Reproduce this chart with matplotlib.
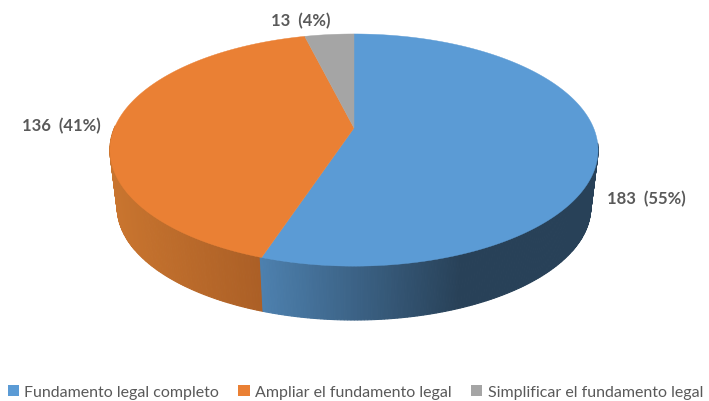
import matplotlib
matplotlib.use("Agg")
import matplotlib.pyplot as plt
import numpy as np
from matplotlib.patches import Patch

# Data
categories = ["Fundamento legal completo", "Ampliar el fundamento legal", "Simplificar el fundamento legal"]
values = [183, 136, 13]
percents = [55, 41, 4]
colors = ["#5b9bd5", "#ea8034", "#a5a5a5"]

# colours of the side wall, left to right
side_blue = ["#4d80ae", "#284158"]
side_orange = ["#c9752f", "#ab5f26"]

plt.rcParams["font.family"] = ["Lato", "DejaVu Sans"]

# pie geometry in pixels, with perspective so the apex sits above the middle
cx, cy = 354, 129
a, b, k = 239.6, 111.9, 0.19
depth, shrink = 58, 0.97


def top_point(t):
    w = 1 + k * np.sin(t)
    return cx + a * np.cos(t) / w, cy - b * np.sin(t) / w


def bottom_point(t):
    x, y = top_point(t)
    return cx + (x - cx) * shrink, cy + (y - cy) * shrink + depth


def hex_mix(pair, f):
    c0 = np.array(matplotlib.colors.to_rgb(pair[0]))
    c1 = np.array(matplotlib.colors.to_rgb(pair[1]))
    return tuple(c0 + (c1 - c0) * np.clip(f, 0, 1))


fig = plt.figure(figsize=(7.09, 4.02), dpi=100)
ax = fig.add_axes([0, 0, 1, 1])
ax.set_xlim(0, 709)
ax.set_ylim(402, 0)
ax.axis("off")

# slice limits, clockwise from 12 o'clock
shares = np.array(values) / sum(values)
edges = np.pi / 2 - 2 * np.pi * np.concatenate([[0], np.cumsum(shares)])
seam = edges[1]

# side wall strips, from the left edge round the front to the right edge
strips = np.linspace(-np.pi - 0.02, -0.13, 260)
for t, t2 in zip(strips[:-1], strips[1:]):
    p1, p2 = top_point(t), top_point(t2)
    q1, q2 = bottom_point(t), bottom_point(t2)
    tm = (t + t2) / 2
    xm = top_point(tm)[0]
    if tm > seam:
        col = hex_mix(side_blue, (xm - 262) / 200)
    else:
        col = hex_mix(side_orange, (xm - 112) / 150)
    ax.fill([p1[0], p2[0], q2[0], q1[0]], [p1[1], p2[1], q2[1], q1[1]],
            facecolor=col, edgecolor=col, lw=0.8)

# top face
for i, col in enumerate(colors):
    ts = np.linspace(edges[i], edges[i + 1], 200)
    x, y = top_point(ts)
    ax.fill(np.r_[cx, x], np.r_[cy, y], color=col, lw=0.3)

# data labels
label_pos = [(646, 199), (61, 126), (301, 21)]
for v, p, (lx, ly) in zip(values, percents, label_pos):
    ax.text(lx, ly, f"{v}  ({p}%)", ha="center", va="center", fontsize=12,
            fontweight="bold", color="#595959")

handles = [Patch(facecolor=c, edgecolor="none") for c in colors]
ax.legend(handles, categories, loc="lower left", bbox_to_anchor=(6 / 709, 0), ncol=3,
          frameon=False, fontsize=11.5, labelcolor="#595959",
          handlelength=0.7, handleheight=0.7, handletextpad=0.35,
          columnspacing=1.2, borderpad=0.1, borderaxespad=0)

fig.savefig("out.png", dpi=100)
